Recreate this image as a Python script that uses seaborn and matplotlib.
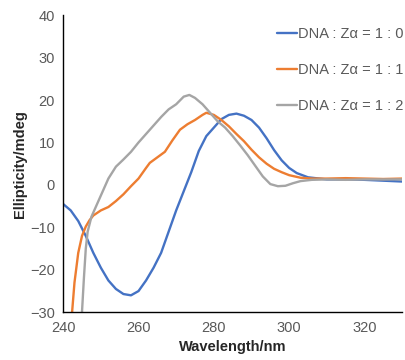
import matplotlib
matplotlib.use("Agg")
import matplotlib.pyplot as plt
import pandas as pd
import seaborn as sns

# CD spectra
wl_0 = [240, 242, 244, 246, 248, 250, 252, 254, 256, 258, 260, 262, 264, 266,
        268, 270, 272, 274, 276, 278, 280, 282, 284, 286, 288, 290, 292, 294,
        296, 298, 300, 302, 305, 310, 315, 320, 325, 330]
cd_0 = [-4.5, -6, -8.5, -12, -16, -19.5, -22.5, -24.5, -25.7, -26, -25, -22.5,
        -19.5, -16, -11, -6, -1.5, 3, 8, 11.5, 13.5, 15.5, 16.5, 16.8, 16.3,
        15.3, 13.5, 11, 8.2, 5.8, 4, 2.8, 1.8, 1.3, 1.3, 1.2, 1.0, 0.8]

wl_1 = [242, 243, 244, 245, 246, 247, 248, 250, 252, 254, 256, 258, 260, 262,
        263, 265, 267, 269, 271, 273, 275, 277, 278, 280, 282, 284, 286, 288,
        290, 292, 294, 296, 298, 300, 303, 306, 310, 315, 320, 325, 330]
cd_1 = [-34, -23, -16, -12, -9.8, -8.3, -7.2, -6, -5.2, -3.8, -2.2, -0.3, 1.5,
        4, 5.2, 6.5, 7.8, 10.5, 13, 14.3, 15.3, 16.5, 17, 16.5, 15.3, 13.8, 12,
        10.3, 8.3, 6.5, 5, 3.8, 3, 2.3, 1.7, 1.5, 1.5, 1.6, 1.5, 1.4, 1.5]

wl_2 = [244.8, 245.5, 246, 246.5, 247.5, 249, 250.5, 252, 254, 256, 258, 260,
        262, 264, 266, 268, 270, 272, 273.5, 275, 277, 279, 281, 283, 285, 287,
        289, 291, 293, 295, 297, 299, 301, 303, 306, 310, 315, 320, 325, 330]
cd_2 = [-33, -22, -15, -11, -7.5, -4.5, -1.5, 1.5, 4.3, 6, 7.8, 10, 12, 14, 16,
        17.8, 19, 20.8, 21.2, 20.5, 19, 17, 15, 13.5, 11.5, 9.3, 7, 4.5, 2,
        0.2, -0.3, -0.2, 0.4, 0.9, 1.2, 1.3, 1.2, 1.3, 1.3, 1.3]

labels = ["DNA : Zα = 1 : 0", "DNA : Zα = 1 : 1", "DNA : Zα = 1 : 2"]
colors = ["#4472C4", "#ED7D31", "#A5A5A5"]

sns.set_style("white")
plt.rcParams["font.family"] = ["Liberation Sans", "DejaVu Sans"]

fig = plt.figure(figsize=(4.05, 3.6), dpi=100)
ax = fig.add_axes([0.156, 0.1325, 0.837, 0.8255])

for wl, cd, lab, col in zip([wl_0, wl_1, wl_2], [cd_0, cd_1, cd_2], labels, colors):
    df = pd.DataFrame({"wl": wl, "cd": cd})
    sns.lineplot(data=df, x="wl", y="cd", ax=ax, color=col, label=lab,
                 linewidth=1.7, estimator=None, sort=False)

ax.set_xlim(240, 330)
ax.set_ylim(-30, 40)
ax.set_xticks(range(240, 321, 20))
ax.set_yticks(range(-30, 41, 10))

for side in ["top", "right"]:
    ax.spines[side].set_visible(False)
for side in ["left", "bottom"]:
    ax.spines[side].set_color("black")
    ax.spines[side].set_linewidth(1.0)

ax.tick_params(axis="both", direction="in", length=4, width=1, color="black",
               labelsize=10.5, labelcolor="#595959", pad=6)

ax.set_xlabel("Wavelength/nm", fontsize=10.5, fontweight="bold", labelpad=4)
ax.set_ylabel("Ellipticity/mdeg", fontsize=10.5, fontweight="bold", labelpad=2)

leg = ax.legend(loc="upper left", bbox_to_anchor=(277 / 405, 1 - 27 / 360),
                bbox_transform=fig.transFigure, frameon=False, fontsize=10.5,
                handlelength=1.4, handletextpad=0.05, labelspacing=1.5,
                borderpad=0, borderaxespad=0)
for t in leg.get_texts():
    t.set_color("#595959")

fig.savefig("out.png", dpi=100)
